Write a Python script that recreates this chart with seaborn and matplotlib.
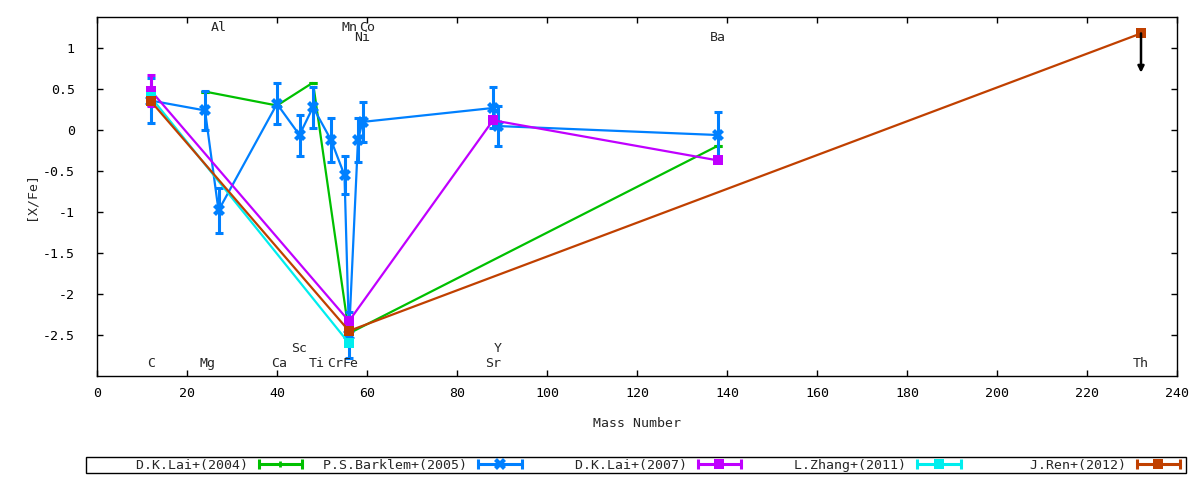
import matplotlib
matplotlib.use("Agg")
import matplotlib.pyplot as plt
from matplotlib.lines import Line2D
from matplotlib.legend_handler import HandlerLine2D, HandlerTuple
import seaborn as sns
import pandas as pd
import numpy as np

# ---- data ----
lai04_x = [24, 40, 48, 56, 138]
lai04_y = [0.47, 0.30, 0.58, -2.48, -0.19]
lai04_e = [0, 0, 0, 0, 0]

bar05_x = [12, 24, 27, 40, 45, 48, 52, 55, 56, 58, 59, 88, 89, 138]
bar05_y = [0.36, 0.24, -0.98, 0.32, -0.06, 0.28, -0.12, -0.55, -2.50, -0.12, 0.10, 0.27, 0.05, -0.06]
bar05_e = [0.27, 0.24, 0.27, 0.25, 0.25, 0.25, 0.27, 0.23, 0.28, 0.27, 0.24, 0.25, 0.24, 0.28]

lai07_x = [12, 56, 88, 138]
lai07_y = [0.48, -2.33, 0.12, -0.37]
lai07_e = [0.19, 0, 0, 0]

zha11_x = [12, 56]
zha11_y = [0.40, -2.60]
zha11_e = [0, 0]

ren12_x = [12, 56, 232]
ren12_y = [0.35, -2.45, 1.18]
ren12_e = [0, 0, 0]
th_limit_end = 0.70   # upper limit arrow for Th

series_names = ["D.K.Lai+(2004)", "P.S.Barklem+(2005)", "D.K.Lai+(2007)",
                "L.Zhang+(2011)", "J.Ren+(2012)"]
series_colors = ["#00C000", "#0080FF", "#C000FF", "#00EEEE", "#C04000"]
series_markers = ["+", "X", "s", "s", "s"]

elem_names = ["C", "Mg", "Al", "Ca", "Sc", "Ti", "Cr", "Fe", "Mn", "Co", "Ni", "Sr", "Y", "Ba", "Th"]
elem_x = [12, 24.5, 27, 40.5, 45, 48.8, 53, 56.3, 56, 60, 59, 88, 89, 138, 232]
elem_y = [-2.85, -2.85, 1.25, -2.85, -2.67, -2.85, -2.85, -2.85, 1.25, 1.25, 1.13, -2.85, -2.67, 1.13, -2.85]

xticks = list(range(0, 241, 20))
yticks = [1, 0.5, 0, -0.5, -1, -1.5, -2, -2.5]
ytick_labels = ["1", "0.5", "0", "-0.5", "-1", "-1.5", "-2", "-2.5"]

# ---- plot ----
sns.set_style("ticks")
plt.rcParams["font.family"] = ["DejaVu Sans Mono"]
plt.rcParams["font.size"] = 9.5

fig = plt.figure(figsize=(12, 4.8), dpi=100)
ax = fig.add_axes([97 / 1200, 1 - 376 / 480, 1080 / 1200, 359 / 480])

all_series = [(lai04_x, lai04_y, lai04_e), (bar05_x, bar05_y, bar05_e),
              (lai07_x, lai07_y, lai07_e), (zha11_x, zha11_y, zha11_e),
              (ren12_x, ren12_y, ren12_e)]

handles = []
hmap = {}
for (xs, ys, es), name, col, mk in zip(all_series, series_names, series_colors, series_markers):
    df = pd.DataFrame({"x": xs, "y": ys})
    if mk == "s":
        mkw = dict(marker="s", markersize=6.5, markeredgewidth=0)
    elif mk == "X":
        mkw = dict(marker="X", markersize=8, markeredgewidth=0)
    else:
        mkw = dict(marker="+", markersize=5, markeredgewidth=2)
    sns.lineplot(data=df, x="x", y="y", color=col, lw=1.6, ax=ax, legend=False,
                 sort=False, **mkw)
    ax.errorbar(xs, ys, yerr=es, fmt="none", ecolor=col, elinewidth=2.2,
                capsize=3, capthick=2.2)
    caps = Line2D([], [], color=col, lw=2.2, marker="|", markersize=7, markeredgewidth=2.2)
    mid = Line2D([], [], color=col, lw=0, **mkw)
    hmap[caps] = HandlerLine2D(numpoints=2)
    hmap[mid] = HandlerLine2D(numpoints=1)
    handles.append((caps, mid))

# Th upper limit
ax.annotate("", xy=(ren12_x[-1], th_limit_end), xytext=(ren12_x[-1], ren12_y[-1]),
            arrowprops=dict(arrowstyle="-|>", color="black", lw=1.8, mutation_scale=9,
                            shrinkA=0, shrinkB=0))

for nm, ex, ey in zip(elem_names, elem_x, elem_y):
    ax.text(ex, ey, nm, ha="center", va="center", fontsize=9.5)

ax.set_xlim(0, 240)
ax.set_ylim(-3, 1.38)
ax.set_xticks(xticks)
ax.set_yticks(yticks)
ax.set_yticklabels(ytick_labels)
ax.tick_params(direction="in", top=True, right=True, length=4, width=1, colors="black")
ax.tick_params(axis="x", pad=8)
ax.tick_params(axis="y", pad=16)
for s in ax.spines.values():
    s.set_color("black")
    s.set_linewidth(1)
ax.set_xlabel("Mass Number", labelpad=12)
ax.set_ylabel("[X/Fe]", labelpad=4)

labels = [n.rjust(20) for n in series_names]
hmap[tuple] = HandlerTuple(ndivide=1, pad=0)
leg = fig.legend(handles, labels, handler_map=hmap, ncol=5, mode="expand",
                 loc="center", bbox_to_anchor=(86 / 1200, 1 - 475 / 480, 1100 / 1200, 20 / 480),
                 bbox_transform=fig.transFigure, markerfirst=False, handlelength=3.9,
                 handletextpad=0.5, borderpad=0.15, borderaxespad=0, columnspacing=0.5,
                 fancybox=False, framealpha=1, edgecolor="black")
leg.get_frame().set_linewidth(1)

fig.savefig("out.png", dpi=100)
